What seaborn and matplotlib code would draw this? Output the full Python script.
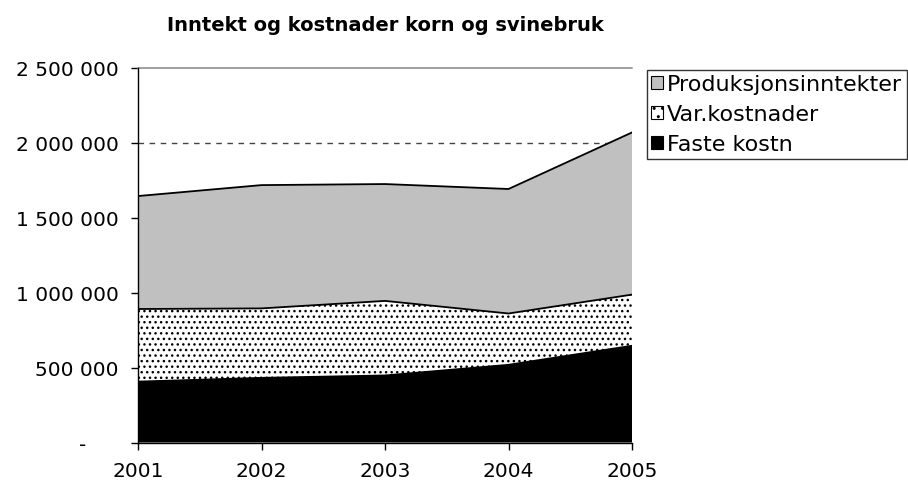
import pandas as pd
import matplotlib
matplotlib.use("Agg")
import matplotlib.pyplot as plt
import matplotlib.ticker as mticker
from matplotlib.patches import Patch
import seaborn as sns

# --- data ---
years = [2001, 2002, 2003, 2004, 2005]
produksjonsinntekter = [1643000, 1716000, 1723000, 1690000, 2067000]
var_kostnader = [890000, 894000, 944000, 860000, 986000]
faste_kostn = [406000, 431000, 447000, 518000, 645000]
labels = ["Produksjonsinntekter", "Var.kostnader", "Faste kostn"]

df = pd.DataFrame({
    "year": years,
    labels[0]: produksjonsinntekter,
    labels[1]: var_kostnader,
    labels[2]: faste_kostn,
})

sns.set_style("white")
plt.rcParams["font.family"] = ["DejaVu Sans"]
plt.rcParams["text.color"] = "black"
plt.rcParams["xtick.color"] = "black"
plt.rcParams["ytick.color"] = "black"
plt.rcParams["hatch.linewidth"] = 1.0
plt.rcParams["hatch.color"] = "black"

fig = plt.figure(figsize=(9.08, 4.85), dpi=100)
ax = fig.add_axes([138 / 908, 1 - 443.5 / 485, 494 / 908, 375 / 485])

# --- areas (overlapping, drawn back to front) ---
styles = [
    dict(facecolor="#c0c0c0", edgecolor="none"),
    dict(facecolor="white", hatch="...", edgecolor="black", linewidth=0),
    dict(facecolor="black", edgecolor="none"),
]
for i, (name, style) in enumerate(zip(labels, styles)):
    ax.fill_between(df["year"], 0, df[name], zorder=2 + i, **style)
    sns.lineplot(data=df, x="year", y=name, ax=ax, color="black", linewidth=1.3,
                 zorder=2.5 + i, legend=False)

# --- axes ---
ax.set_xlim(2001, 2005)
ax.set_ylim(0, 2500000)
ax.set_xticks(years)
ax.set_yticks(range(0, 2500001, 500000))


def fmt(v, pos):
    if v == 0:
        return "-     "
    return f"{int(v):,}".replace(",", " ")


ax.yaxis.set_major_formatter(mticker.FuncFormatter(fmt))
ax.set_xlabel("")
ax.set_ylabel("")

# gridlines: dashed, top one grey solid
for yv in range(500000, 2000001, 500000):
    ax.axhline(yv, color="#444444", linestyle=(0, (4, 4)), linewidth=1.0, zorder=1)
ax.axhline(2500000, color="#a0a0a0", linewidth=1.4, zorder=1, clip_on=False)

for s in ["top", "right"]:
    ax.spines[s].set_visible(False)
for s in ["left", "bottom"]:
    ax.spines[s].set_color("black")
    ax.spines[s].set_linewidth(1.0)
    ax.spines[s].set_zorder(10)

ax.tick_params(axis="y", which="major", direction="out", length=5, width=1,
               color="black", labelcolor="black", labelsize=14.5, pad=9, left=True)
ax.tick_params(axis="x", which="major", direction="out", length=5, width=1,
               color="black", labelcolor="black", labelsize=14.5, pad=8, bottom=True)

fig.text(385 / 908, 1 - 31 / 485, "Inntekt og kostnader korn og svinebruk",
         ha="center", va="baseline", fontsize=14, fontweight="bold", color="black")

handles = [
    Patch(facecolor="#c0c0c0", edgecolor="black", linewidth=0.8),
    Patch(facecolor="white", edgecolor="black", hatch="..", linewidth=0.8),
    Patch(facecolor="black", edgecolor="black", linewidth=0.8),
]
leg = fig.legend(handles=handles, labels=labels,
                 loc="upper left", bbox_to_anchor=(647 / 908, 1 - 71 / 485),
                 frameon=True, fancybox=False, shadow=False, fontsize=16,
                 handlelength=0.5, handleheight=0.5, handletextpad=0.2,
                 borderpad=0.2, labelspacing=0.45, borderaxespad=0)
leg.get_frame().set_edgecolor("black")
leg.get_frame().set_linewidth(1.0)

fig.savefig("out.png", dpi=100)
